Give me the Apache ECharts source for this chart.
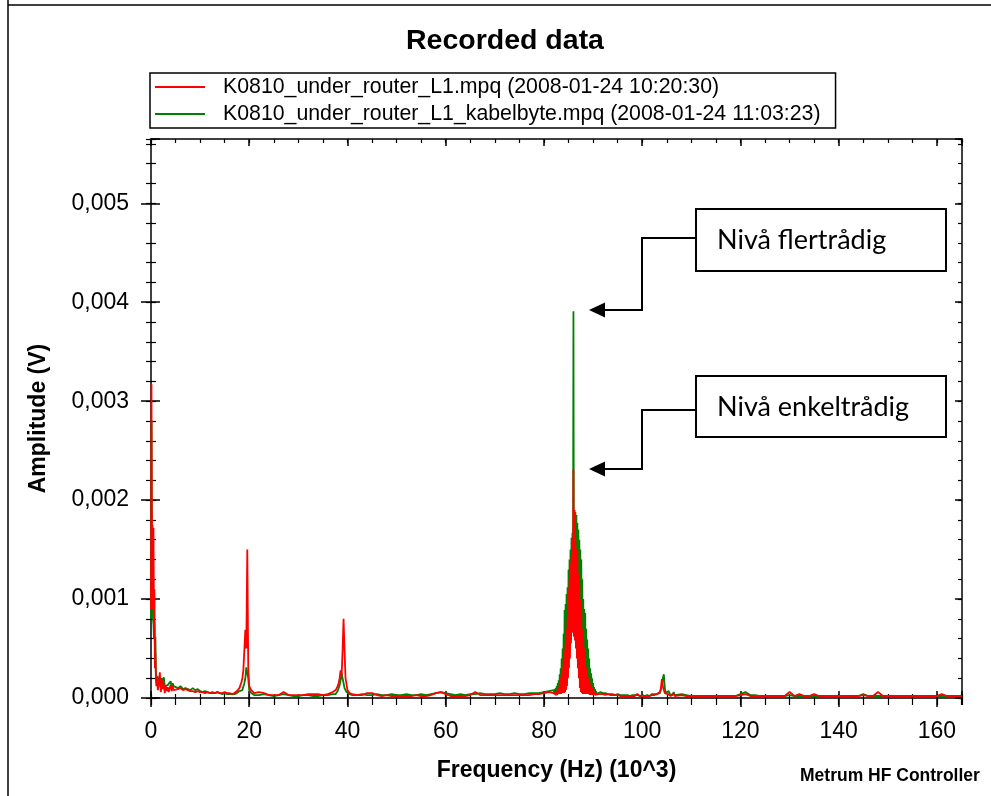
<!DOCTYPE html>
<html><head><meta charset="utf-8">
<script src="https://cdn.jsdelivr.net/npm/echarts@6/dist/echarts.min.js"></script>
<style>html,body{margin:0;padding:0;background:#fff}#c{width:991px;height:796px}</style>
</head><body><div id="c"></div>
<script>
const chartTitle = 'Recorded data';
const seriesNames = [
  'K0810_under_router_L1.mpq (2008-01-24 10:20:30)',
  'K0810_under_router_L1_kabelbyte.mpq (2008-01-24 11:03:23)'
];
const xAxisName = 'Frequency (Hz) (10^3)';
const yAxisName = 'Amplitude (V)';
const xTickLabels = ['0','20','40','60','80','100','120','140','160'];
const yTickLabels = ['0,000','0,001','0,002','0,003','0,004','0,005'];
const annotations = ['Nivå flertrådig', 'Nivå enkeltrådig'];
const footer = 'Metrum HF Controller';

// frequency (kHz)
const freqKHz = [
  0,0.1,0.2,0.3,0.4,0.5,0.6,0.7,0.8,0.9,1.0,1.1,1.2,
  1.4,1.6,1.8,2.0,2.2,2.4,2.6,2.8,3.0,3.2,3.4,3.6,3.8,4.0,4.2,4.4,4.6,4.8,5.0,
  5.5,6,6.5,7,7.5,8,8.5,9,9.5,10,10.5,11,11.5,12,12.5,13,13.5,14,14.5,15,15.5,16,16.5,17,17.5,18,
  18.2,18.4,18.6,18.8,19.0,19.2,19.4,19.6,19.8,20.0,20.2,20.4,20.6,20.8,21.0,
  22,23,24,25,26,27,28,29,30,31,32,33,34,35,36,37,
  37.4,37.6,37.8,38.0,38.2,38.4,38.6,38.8,39.0,39.2,39.4,39.6,39.8,40.0,40.2,40.4,
  41,42,43,44,45,46,47,48,49,50,51,52,53,54,55,56,57,58,59,60,61,62,63,64,65,66,67,68,69,70,71,72,73,74,75,76,77,78,79,80,81,
  82.0,82.1,82.2,82.3,82.4,82.5,82.6,82.7,82.8,82.9,
  83.0,83.1,83.2,83.3,83.4,83.5,83.6,83.7,83.8,83.9,
  84.0,84.1,84.2,84.3,84.4,84.5,84.6,84.7,84.8,84.9,
  85.0,85.1,85.2,85.3,85.4,85.5,85.6,85.7,85.8,85.9,
  86.0,86.1,86.2,86.3,86.4,86.5,86.6,86.7,86.8,86.9,
  87.0,87.1,87.2,87.3,87.4,87.5,87.6,87.7,87.8,87.9,
  88.0,88.1,88.2,88.3,88.4,88.5,88.6,88.7,88.8,88.9,
  89.0,89.1,89.2,89.3,89.4,89.5,89.6,89.7,89.8,89.9,
  90.0,90.1,90.2,90.3,90.4,90.5,90.6,90.7,90.8,90.9,
  91.0,
  91.5,92,92.5,93,93.5,94,94.5,95,95.5,96,96.5,97,97.5,98,98.5,99,99.5,100,100.5,101,101.5,102,102.5,103,
  103.2,103.4,103.6,103.8,104.0,104.2,104.4,104.6,104.8,105.0,105.2,105.4,105.6,105.8,106.0,106.2,106.4,106.6,106.8,107.0,
  108,109,110,111,112,113,114,115,116,117,
  118,119,120,121,122,123,124,125,126,127,
  128,129,130,131,132,133,134,135,136,137,
  138,139,140,141,142,143,144,145,146,147,
  148,149,150,151,152,153,154,155,156,157,
  158,159,160,161,162,163,164,165
];

// amplitude (V), red trace
const redAmp = [
  0.0009,0.00317,0.0014,0.00175,0.0009,0.00172,0.0008,0.0011,0.0003,0.00045,0.00018,0.00012,0.00022,
  0.00008,0.00015,0.00026,0.00006,0.00018,0.00009,0.00014,0.00005,0.00012,0.00007,0.00011,0.00006,0.0001,0.00013,0.00007,0.00012,0.00008,0.0001,0.00009,
  0.00009,0.0001,0.00008,0.00009,0.00008,0.00007,0.00007,0.00006,0.00007,0.00006,0.00006,0.00005,0.00006,0.00005,0.00005,0.00005,0.00006,0.00005,0.00005,0.00006,0.00005,0.00005,0.00004,0.00005,0.00007,0.0001,
  0.00012,0.00016,0.0002,0.00028,0.0003,0.00069,0.0005,0.0015,0.0003,0.00012,0.0001,0.00008,0.00007,0.00006,0.00005,
  0.00006,0.00005,0.00003,0.00003,0.00003,0.00006,0.00003,0.00003,0.00003,0.00003,0.00004,0.00004,0.00004,0.00003,0.00004,0.00006,
  0.00006,0.00008,0.0001,0.00012,0.00015,0.0002,0.00028,0.00022,0.00048,0.0008,0.00048,0.0002,0.0002,0.00008,0.00006,0.00005,
  0.00004,0.00003,0.00003,0.00005,0.00005,0.00003,0.00002,0.00003,0.00002,0.00002,0.00002,0.00002,0.00002,0.00003,0.00002,0.00002,0.00003,0.00005,0.00006,0.00004,0.00002,0.00002,0.00002,0.00002,0.00003,0.00006,0.00003,0.00003,0.00003,0.00003,0.00003,0.00003,0.00003,0.00003,0.00003,0.00003,0.00003,0.00004,0.00004,0.00005,0.00006,
  0.00005,0.00003,0.00005,0.00003,0.00006,0.00003,0.00007,0.00003,0.00009,0.00004,
  0.00011,0.00004,0.00015,0.00004,0.0002,0.00004,0.00025,0.00005,0.0003,0.00005,
  0.0004,0.00005,0.00048,0.00006,0.00055,0.00008,0.0007,0.00012,0.0008,0.0002,
  0.00109,0.0003,0.0012,0.0004,0.00135,0.00055,0.00143,0.00066,0.0016,0.00066,
  0.00231,0.00062,0.0019,0.00058,0.0016,0.0005,0.0015,0.0004,0.0015,0.0003,
  0.00125,0.0002,0.00116,0.0001,0.001,0.00006,0.0009,0.00005,0.00069,0.00004,
  0.0006,0.00004,0.0005,0.00004,0.00035,0.00004,0.0003,0.00004,0.00025,0.00004,
  0.0002,0.00004,0.00018,0.00003,0.00014,0.00003,0.0001,0.00003,0.0001,0.00003,
  0.00008,0.00003,0.00007,0.00003,0.00006,0.00003,0.00005,0.00003,0.00005,0.00003,
  0.00004,
  0.00004,0.00004,0.00003,0.00004,0.00003,0.00003,0.00003,0.00003,0.00002,0.00002,0.00002,0.00002,0.00002,0.00002,0.00002,0.00004,0.00002,0.00002,0.00002,0.00002,0.00002,0.00003,0.00003,0.00004,
  0.00004,0.00005,0.00006,0.0001,0.00019,0.00012,0.00008,0.00005,0.00003,0.00006,0.00004,0.00006,0.00003,0.00002,0.00004,0.00002,0.00005,0.00002,0.00002,0.00002,
  0.00003,0.00002,0.00002,0.00002,0.00002,0.00002,0.00002,0.00002,0.00002,0.00002,
  0.00002,0.00002,0.00003,0.00004,0.00002,0.00002,0.00002,0.00002,0.00002,0.00002,
  0.00002,0.00002,0.00006,0.00002,0.00004,0.00002,0.00002,0.00004,0.00002,0.00002,
  0.00002,0.00002,0.00002,0.00002,0.00002,0.00002,0.00002,0.00003,0.00002,0.00002,
  0.00006,0.00002,0.00002,0.00002,0.00002,0.00002,0.00002,0.00002,0.00002,0.00002,
  0.00002,0.00002,0.00002,0.00004,0.00002,0.00002,0.00002,0.00002
];

// amplitude (V), green trace
const greenAmp = [
  0.0008,0.0028,0.0012,0.0015,0.0008,0.00075,0.0006,0.00077,0.0005,0.00062,0.00025,0.00022,0.00015,
  0.00022,0.00012,0.00016,0.00011,0.0002,0.00013,0.00021,0.00012,0.00014,0.0001,0.00013,0.00012,0.00011,0.00017,0.0001,0.00015,0.00012,0.00013,0.00011,
  0.0001,0.00012,0.00009,0.0001,0.00009,0.00008,0.0001,0.00008,0.00009,0.00007,0.00006,0.00007,0.00006,0.00005,0.00006,0.00005,0.00006,0.00005,0.00004,0.00005,0.00004,0.00004,0.00004,0.00004,0.00005,0.00007,
  0.00005,0.00006,0.00008,0.0001,0.00015,0.0002,0.00031,0.00033,0.0002,0.00008,0.00006,0.00005,0.00004,0.00004,0.00003,
  0.00003,0.00004,0.00003,0.00002,0.00003,0.00004,0.00003,0.00002,0.00002,0.00003,0.00003,0.00002,0.00002,0.00003,0.00003,0.00004,
  0.00003,0.00004,0.00005,0.00007,0.0001,0.00013,0.00018,0.00025,0.00024,0.00015,0.0001,0.00008,0.00006,0.00005,0.00004,0.00004,
  0.00003,0.00003,0.00004,0.00003,0.00003,0.00004,0.00003,0.00003,0.00004,0.00003,0.00003,0.00004,0.00003,0.00003,0.00004,0.00003,0.00004,0.00005,0.00006,0.00005,0.00004,0.00003,0.00004,0.00003,0.00004,0.00004,0.00005,0.00004,0.00004,0.00004,0.00005,0.00004,0.00004,0.00005,0.00004,0.00004,0.00005,0.00005,0.00005,0.00006,0.00007,
  0.00008,0.00004,0.00009,0.00004,0.0001,0.00004,0.00012,0.00005,0.00015,0.00005,
  0.00018,0.00005,0.00024,0.00006,0.0003,0.00006,0.0004,0.00007,0.0005,0.00008,
  0.00065,0.0001,0.00089,0.00012,0.00095,0.00016,0.00105,0.0002,0.00112,0.0003,
  0.0013,0.00038,0.0014,0.00048,0.0015,0.00058,0.00162,0.00068,0.00167,0.0007,
  0.00391,0.0007,0.0019,0.00065,0.00188,0.0006,0.00185,0.0005,0.00177,0.0004,
  0.0017,0.0003,0.0016,0.0002,0.0015,0.00012,0.0014,0.0001,0.0012,0.00008,
  0.001,0.00007,0.0009,0.00006,0.00086,0.00006,0.0007,0.00005,0.00059,0.00005,
  0.0005,0.00005,0.0004,0.00005,0.0003,0.00004,0.00025,0.00004,0.0002,0.00004,
  0.00015,0.00004,0.00011,0.00004,0.00009,0.00004,0.00007,0.00004,0.00006,0.00004,
  0.00006,
  0.00006,0.00005,0.00005,0.00004,0.00004,0.00004,0.00003,0.00004,0.00003,0.00003,0.00003,0.00003,0.00002,0.00003,0.00003,0.00003,0.00002,0.00003,0.00002,0.00003,0.00002,0.00004,0.00004,0.00004,
  0.00004,0.00004,0.00005,0.00007,0.00012,0.0002,0.00024,0.0001,0.00005,0.00006,0.00004,0.00007,0.00004,0.00003,0.00006,0.00003,0.00006,0.00003,0.00003,0.00003,
  0.00004,0.00003,0.00002,0.00002,0.00002,0.00002,0.00002,0.00002,0.00002,0.00002,
  0.00002,0.00002,0.00004,0.00006,0.00003,0.00003,0.00002,0.00002,0.00002,0.00002,
  0.00002,0.00002,0.00003,0.00002,0.00002,0.00002,0.00002,0.00002,0.00002,0.00002,
  0.00002,0.00002,0.00002,0.00002,0.00002,0.00002,0.00002,0.00004,0.00002,0.00002,
  0.00002,0.00002,0.00002,0.00002,0.00002,0.00002,0.00002,0.00002,0.00002,0.00002,
  0.00002,0.00002,0.00002,0.00002,0.00002,0.00002,0.00002,0.00002
];

const X_MAX = 165.1, Y_MAX = 0.00565;
const FONT = 'Liberation Sans, Arial, sans-serif';
const chart = echarts.init(document.getElementById('c'), null, {renderer: 'canvas'});

function xAx(o) {
  return Object.assign({type:'value', min:0, max:X_MAX, position:'bottom', splitLine:{show:false},
    axisLine:{show:false, onZero:false}, axisLabel:{show:false}, axisTick:{show:false}}, o);
}
function yAx(o) {
  return Object.assign({type:'value', min:0, max:Y_MAX, position:'left', splitLine:{show:false},
    axisLine:{show:false, onZero:false}, axisLabel:{show:false}, axisTick:{show:false}}, o);
}
const tk = (len, inside, w) => ({show:true, inside:inside, length:len, lineStyle:{color:'#000', width:w||1.5}});

const option = {
  animation:false,
  backgroundColor:'#fff',
  title:{text:chartTitle, left:406, top:27, padding:0,
    textStyle:{fontFamily:FONT, fontSize:28.5, fontWeight:'bold', color:'#000'}},
  legend:{orient:'vertical', left:150, top:73, padding:[2,15,2,5], itemGap:3, itemWidth:50, itemHeight:2,
    icon:'rect', borderColor:'#000', borderWidth:1.5, backgroundColor:'#fff', selectedMode:false,
    data:seriesNames,
    textStyle:{fontFamily:FONT, fontSize:21.3, color:'#000', lineHeight:24, padding:[0,0,0,13]}},
  grid:{left:151, top:139, width:811, height:559, outerBoundsMode:'none', containLabel:false},
  xAxis:[
    xAx({interval:20, axisLine:{show:true, onZero:false, lineStyle:{color:'#000', width:1.5}},
      axisTick:tk(9,false),
      axisLabel:{show:true, showMaxLabel:false, margin:22, fontFamily:FONT, fontSize:23, color:'#000',
        formatter:v => xTickLabels[Math.round(v/20)] ?? ''},
      name:xAxisName, nameLocation:'middle', nameGap:61,
      nameTextStyle:{fontFamily:FONT, fontSize:23, fontWeight:'bold', color:'#000'}}),
    xAx({interval:20, axisTick:tk(7,true)}),
    xAx({interval:5, axisTick:tk(7,false,1.2)}),
    xAx({interval:5, axisTick:tk(4,true,1.2)}),
    xAx({position:'top', interval:20, axisLine:{show:true, onZero:false, lineStyle:{color:'#000', width:1.5}}, axisTick:tk(7,true)}),
    xAx({position:'top', interval:5, axisTick:tk(4,true,1.2)})
  ],
  yAxis:[
    yAx({interval:0.001, axisLine:{show:true, onZero:false, lineStyle:{color:'#000', width:1.5}},
      axisTick:tk(10,false),
      axisLabel:{show:true, showMaxLabel:false, margin:22, fontFamily:FONT, fontSize:23, color:'#000',
        formatter:v => yTickLabels[Math.round(v/0.001)] ?? ''},
      name:yAxisName, nameLocation:'middle', nameGap:101, nameRotate:90,
      nameTextStyle:{fontFamily:FONT, fontSize:23, fontWeight:'bold', color:'#000'}}),
    yAx({interval:0.001, axisTick:tk(9,true)}),
    yAx({interval:0.0002, axisTick:tk(5,false,1.2)}),
    yAx({interval:0.0002, axisTick:tk(5,true,1.2)}),
    yAx({position:'right', interval:0.001, axisLine:{show:true, onZero:false, lineStyle:{color:'#000', width:1.5}}, axisTick:tk(7,true)}),
    yAx({position:'right', interval:0.0002, axisTick:tk(4,true,1.2)})
  ],
  series:[
    {name:seriesNames[0], type:'line', xAxisIndex:0, yAxisIndex:0, z:3, symbol:'none', showSymbol:false,
      data:freqKHz.map((f,i)=>[f, redAmp[i]]), lineStyle:{color:'#ff0000', width:1.8}, itemStyle:{color:'#ff0000'},
      emphasis:{disabled:true}, silent:true},
    {name:seriesNames[1], type:'line', xAxisIndex:0, yAxisIndex:0, z:2, symbol:'none', showSymbol:false,
      data:freqKHz.map((f,i)=>[f, greenAmp[i]]), lineStyle:{color:'#008000', width:1.8}, itemStyle:{color:'#008000'},
      emphasis:{disabled:true}, silent:true}
  ],
  graphic:[
    {type:'line', shape:{x1:8, y1:0, x2:8, y2:796}, style:{stroke:'#000', lineWidth:1.5}, silent:true},
    {type:'line', shape:{x1:8, y1:5, x2:991, y2:5}, style:{stroke:'#000', lineWidth:1.5}, silent:true},
    {type:'rect', shape:{x:696, y:209, width:250, height:62}, style:{fill:'#fff', stroke:'#000', lineWidth:2}, silent:true},
    {type:'text', x:717, y:240, style:{text:annotations[0], font:'27px Lato', fill:'#000', textVerticalAlign:'middle'}, silent:true},
    {type:'rect', shape:{x:696, y:376, width:250, height:61}, style:{fill:'#fff', stroke:'#000', lineWidth:2}, silent:true},
    {type:'text', x:717, y:407, style:{text:annotations[1], font:'27px Lato', fill:'#000', textVerticalAlign:'middle'}, silent:true},
    {type:'polyline', shape:{points:[[696,238],[642,238],[642,310],[603,310]]}, style:{stroke:'#000', lineWidth:2, fill:null}, silent:true},
    {type:'polygon', shape:{points:[[589,310],[605,302.5],[605,317.5]]}, style:{fill:'#000'}, silent:true},
    {type:'polyline', shape:{points:[[696,410],[642,410],[642,469],[603,469]]}, style:{stroke:'#000', lineWidth:2, fill:null}, silent:true},
    {type:'polygon', shape:{points:[[589,469],[605,461.5],[605,476.5]]}, style:{fill:'#000'}, silent:true},
    {type:'text', x:800, y:776, style:{text:footer, font:'bold 17.5px Liberation Sans', fill:'#000', textVerticalAlign:'middle'}, silent:true}
  ]
};
chart.setOption(option);
</script></body></html>
